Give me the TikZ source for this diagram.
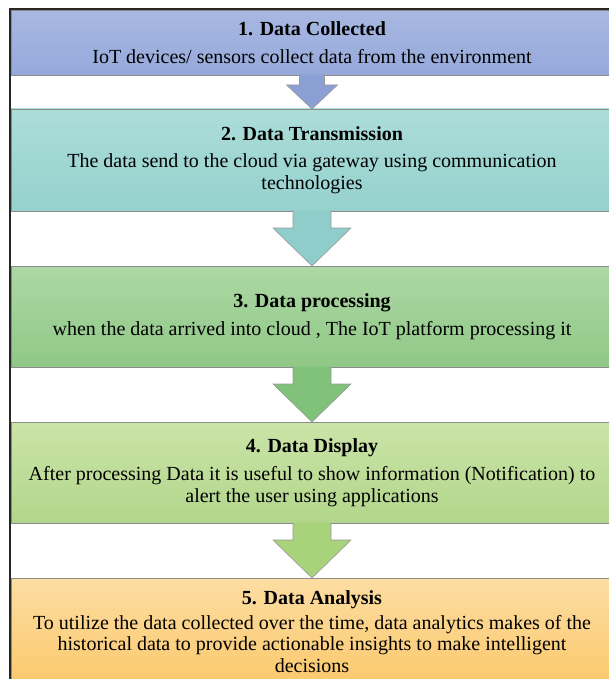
\documentclass[tikz,border=0pt]{standalone}
\usepackage{fontspec}
\setmainfont{Liberation Serif}
\usetikzlibrary{positioning, calc}

\definecolor{collectTop}{HTML}{A8B8E2}
\definecolor{collectBot}{HTML}{95A9DA}
\definecolor{collectArr}{HTML}{8C9FD5}
\definecolor{transTop}{HTML}{ACDDD9}
\definecolor{transBot}{HTML}{95D1CD}
\definecolor{transArr}{HTML}{8ECDC9}
\definecolor{procTop}{HTML}{ACD8A4}
\definecolor{procBot}{HTML}{90C887}
\definecolor{procArr}{HTML}{80C27A}
\definecolor{dispTop}{HTML}{CBE4A8}
\definecolor{dispBot}{HTML}{B2D68B}
\definecolor{dispArr}{HTML}{A8D37B}
\definecolor{anaTop}{HTML}{FDDDA3}
\definecolor{anaBot}{HTML}{FBC96C}

\begin{document}
\begin{tikzpicture}[x=1pt, y=1pt,
    stage/.style={rectangle, draw=black!45, line width=0.8pt, outer sep=0pt,
        inner sep=0pt, minimum width=602pt, align=center,
        font=\fontsize{20}{21.5}\selectfont},
    flow/.style={draw=black!40, line width=0.6pt}]
    \useasboundingbox (0,0) rectangle (608,-679);
    % stages
    \node [stage, minimum height=65pt, top color=collectTop, bottom color=collectBot] (collect) at (312,-42.5)
        {\textbf{1. Data Collected}\\[7pt]IoT devices/ sensors collect data from the environment};
    \node [stage, minimum height=102pt, top color=transTop, bottom color=transBot, below=34pt of collect] (transmit)
        {\textbf{2. Data Transmission}\\[6pt]The data send to the cloud via gateway using communication\\technologies};
    \node [stage, minimum height=101pt, top color=procTop, bottom color=procBot, below=55pt of transmit] (process)
        {\textbf{3. Data processing}\\[7pt]when the data arrived into cloud , The IoT platform processing it};
    \node [stage, minimum height=101pt, top color=dispTop, bottom color=dispBot, below=55pt of process] (display)
        {\textbf{4. Data Display}\\[7pt]After processing Data it is useful to show information (Notification) to\\alert the user using applications};
    \node [stage, minimum height=107pt, top color=anaTop, bottom color=anaBot, below=55pt of display] (analyse)
        {\textbf{5. Data Analysis}\\[3pt]To utilize the data collected over the time, data analytics makes of the\\historical data to provide actionable insights to make intelligent\\decisions};
    % frame
    \draw [line width=1.2pt, black!85] (10,-700) |- (640,-9);
    % arrows
    \draw [flow, fill=collectArr] ($(collect.south)+(-12.5,0.4)$) |- ($(transmit.north)+(-25.5,24)$)
        -- (transmit.north) -- ($(transmit.north)+(25.5,24)$) -| ($(collect.south)+(12.5,0.4)$);
    \draw [flow, fill=transArr] ($(transmit.south)+(-19,0.4)$) |- ($(process.north)+(-39,38)$)
        -- (process.north) -- ($(process.north)+(39,38)$) -| ($(transmit.south)+(19,0.4)$);
    \draw [flow, fill=procArr] ($(process.south)+(-19,0.4)$) |- ($(display.north)+(-39,38)$)
        -- (display.north) -- ($(display.north)+(39,38)$) -| ($(process.south)+(19,0.4)$);
    \draw [flow, fill=dispArr] ($(display.south)+(-19,0.4)$) |- ($(analyse.north)+(-39,38)$)
        -- (analyse.north) -- ($(analyse.north)+(39,38)$) -| ($(display.south)+(19,0.4)$);
\end{tikzpicture}
\end{document}
